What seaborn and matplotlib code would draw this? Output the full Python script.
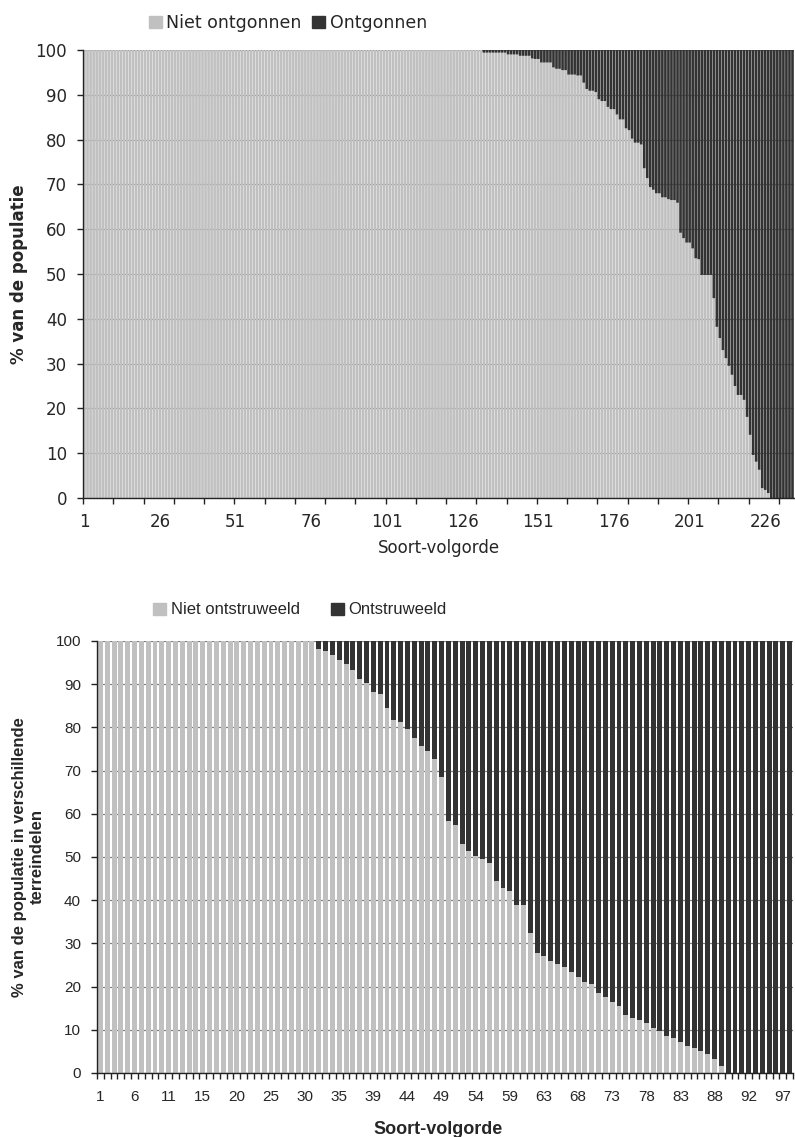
import numpy as np
import pandas as pd
import seaborn as sns
import matplotlib.pyplot as plt
from matplotlib.patches import Patch

# ---------------------------------------------------------------------
# Data
# ---------------------------------------------------------------------
# top chart: % niet ontgonnen per soort, 235 soorten
niet_ontgonnen = [100] * 132 + [
    99.4, 99.4, 99.4, 99.4, 99.4, 99.4, 99.4, 99.4,
    99.0, 99.0, 99.0, 99.0,
    98.7, 98.7, 98.7, 98.7,
    98.1, 98.0, 98.0,
    97.2, 97.2, 97.2, 97.2,
    96.1, 95.8, 95.8, 95.5, 95.5, 94.5, 94.5, 94.5, 94.3, 94.3,
    92.7, 91.3, 90.9, 90.9, 90.6, 89.0, 88.6, 88.6, 87.3, 86.8,
    86.8, 85.6, 84.5, 84.5, 82.5, 82.1, 80.2, 79.3, 79.3, 78.9,
    73.6, 71.4, 69.4, 68.8, 68.0, 68.0, 67.1, 67.1, 66.7, 66.5,
    66.5, 65.9,
    59.2, 58.0, 57.0, 57.0, 55.7, 53.5, 53.3, 49.8, 49.8, 49.8,
    49.8, 44.6, 38.2, 35.7, 33.0, 31.2, 29.5, 27.5, 25.0, 23.0,
    23.0, 21.9, 18.1, 14.1, 9.6, 8.1, 6.3, 2.2, 1.8, 1.1,
    0, 0, 0, 0, 0, 0, 0, 0,
]
top_ticklabels = ["1", "26", "51", "76", "101", "126", "151", "176", "201", "226"]

# bottom chart: % niet ontstruweeld per soort, 102 soorten
niet_ontstruweeld = [100] * 32 + [
    98.1, 97.7, 96.7, 95.6, 94.7, 93.3, 91.3, 90.3, 88.3, 87.7,
    84.4, 81.7, 81.2, 79.6, 77.6, 75.7, 74.6, 72.6, 68.6,
    58.3, 57.5, 53.0, 51.5, 50.3, 49.5, 48.6, 44.5, 42.8, 42.2,
    39.0, 38.8, 32.3, 27.8, 27.0, 26.0, 25.3, 24.5, 23.3, 22.3,
    21.0, 20.5, 18.5, 17.5, 16.5, 15.5, 13.5, 12.8, 12.2, 11.5,
    10.5, 9.8, 8.5, 8.0, 7.1, 6.2, 5.8, 5.0, 4.5, 3.3, 1.6,
    0, 0, 0, 0, 0, 0, 0, 0, 0, 0,
]
bottom_ticklabels = ["1", "6", "11", "15", "20", "25", "30", "35", "39", "44", "49",
                     "54", "59", "63", "68", "73", "78", "83", "88", "92", "97"]

assert len(niet_ontgonnen) == 235
assert len(niet_ontstruweeld) == 102

LIGHT = "#C0C0C0"
DARK = "#333333"
GRID = "#808080"

sns.set_style("white")

# ---------------------------------------------------------------------
# Figure
# ---------------------------------------------------------------------
fig = plt.figure(figsize=(7.95, 11.37), dpi=100)
ax1 = fig.add_axes([83 / 795, 1 - 498 / 1137, 711 / 795, 448 / 1137])
ax2 = fig.add_axes([97 / 795, 1 - 1073 / 1137, 696 / 795, 432 / 1137])


def stacked(ax, light, width, snap):
    df = pd.DataFrame({"soort": range(len(light)), "niet": light})
    df["wel"] = 100 - df["niet"]
    # light part at the bottom, dark part stacked on top of it
    sns.barplot(data=df, x="soort", y="niet", color=LIGHT, saturation=1,
                width=width, linewidth=0, errorbar=None, snap=snap, ax=ax)
    sns.barplot(data=df, x="soort", y="wel", color=DARK, saturation=1,
                width=width, linewidth=0, errorbar=None, snap=snap,
                bottom=df["niet"].to_numpy(), ax=ax)
    ax.set_xlim(-0.5, len(light) - 0.5)
    ax.set_ylim(0, 100)
    ax.set_yticks(range(0, 101, 10))
    ax.set_axisbelow(True)
    ax.yaxis.grid(True, color=GRID, linewidth=0.9)
    ax.xaxis.grid(False)
    for s in ("top", "right"):
        ax.spines[s].set_visible(False)
    for s in ("left", "bottom"):
        ax.spines[s].set_color("#222222")
        ax.spines[s].set_linewidth(1.0)
    ax.tick_params(axis="y", which="major", direction="out", length=4,
                   width=1, color="#222222", pad=7.5, left=True)
    return df


# ---- top chart (Verdana-like) ----
f1 = "DejaVu Sans"
stacked(ax1, niet_ontgonnen, 0.88, False)
ax1.set_xticks(range(0, 235, 25), labels=top_ticklabels)
ax1.set_xticks(np.arange(-0.5, 235, 10), minor=True)
ax1.tick_params(axis="x", which="major", length=0, pad=11)
ax1.tick_params(axis="x", which="minor", direction="out", length=4,
                width=1, color="#222222", bottom=True)
for lab in ax1.get_xticklabels() + ax1.get_yticklabels():
    lab.set_fontfamily(f1)
    lab.set_fontsize(12)
ax1.set_xlabel("Soort-volgorde", fontfamily=f1, fontsize=12)
ax1.set_ylabel("% van de populatie", fontfamily=f1, fontsize=12, fontweight="bold")
ax1.xaxis.set_label_coords(0.5, -0.092)
ax1.yaxis.set_label_coords(-0.077, 0.5)

fig.legend(handles=[Patch(color=LIGHT, label="Niet ontgonnen"),
                    Patch(color=DARK, label="Ontgonnen")],
           loc="center", bbox_to_anchor=(288 / 795, 1 - 23 / 1137), ncol=2,
           frameon=False, handlelength=0.75, handleheight=0.75,
           handletextpad=0.25, columnspacing=0.6,
           prop={"family": f1, "size": 12.5})

# ---- bottom chart (Arial-like) ----
f2 = "Liberation Sans"
stacked(ax2, niet_ontstruweeld, 0.72, True)
ax2.set_xticks(range(0, 101, 5), labels=bottom_ticklabels)
ax2.set_xticks(np.arange(-0.5, 102, 1), minor=True)
ax2.tick_params(axis="x", which="major", length=0, pad=12)
ax2.tick_params(axis="x", which="minor", direction="out", length=4,
                width=1, color="#222222", bottom=True)
for lab in ax2.get_xticklabels() + ax2.get_yticklabels():
    lab.set_fontfamily(f2)
    lab.set_fontsize(11)
ax2.set_xlabel("Soort-volgorde", fontfamily=f2, fontsize=13, fontweight="bold")
ax2.set_ylabel("% van de populatie in verschillende\nterreindelen",
               fontfamily=f2, fontsize=12, fontweight="bold")
ax2.xaxis.set_label_coords(0.49, -0.11)
ax2.yaxis.set_label_coords(-0.075, 0.5)

fig.legend(handles=[Patch(color=LIGHT, label="Niet ontstruweeld"),
                    Patch(color=DARK, label="Ontstruweeld")],
           loc="center", bbox_to_anchor=(300 / 795, 1 - 610 / 1137), ncol=2,
           frameon=False, handlelength=0.75, handleheight=0.75,
           handletextpad=0.3, columnspacing=1.9,
           prop={"family": f2, "size": 12})

fig.savefig("out.png", dpi=100)
